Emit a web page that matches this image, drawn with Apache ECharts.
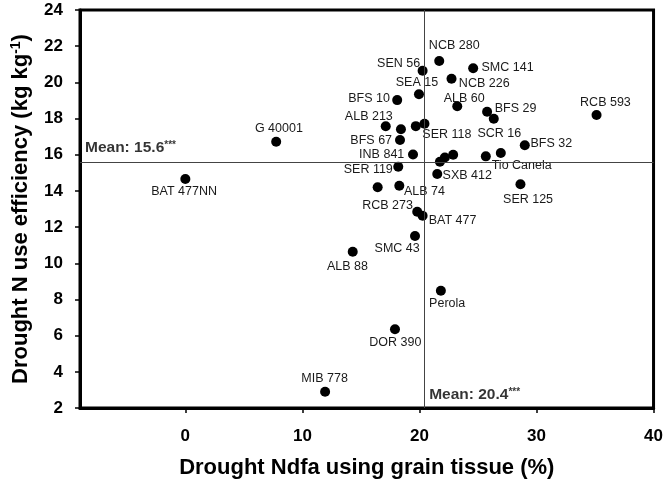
<!DOCTYPE html>
<html>
<head>
<meta charset="utf-8">
<script src="https://cdn.jsdelivr.net/npm/echarts@6/dist/echarts.min.js"></script>
<style>html,body{margin:0;padding:0;background:#fff;}#c{width:666px;height:485px;}</style>
</head>
<body>
<div id="c"></div>
<script>
// ---- data ----
const genotypes = ['NCB 280','SEN 56','SMC 141','NCB 226','SEA 15','BFS 10','ALB 60','BFS 29','SCR 16','RCB 593',
  'ALB 213','','','SER 118','BFS 67','G 40001','BFS 32','INB 841','','',
  '','','Tio Canela','SXB 412','SER 119','','ALB 74','SER 125','BAT 477NN','RCB 273',
  'BAT 477','SMC 43','ALB 88','Perola','DOR 390','MIB 778'];
const ndfa = [21.69,20.27,24.59,22.74,19.96,18.10,23.23,25.78,26.35,35.13,
  17.12,18.42,19.69,20.43,18.34,7.76,29.00,19.45,22.88,22.17,
  21.75,25.67,26.95,21.52,18.19,16.43,18.28,28.63,0.00,19.81,
  20.27,19.62,14.30,21.83,17.91,11.94];
const nue = [21.18,20.64,20.78,20.20,19.34,19.02,18.68,18.38,17.99,18.20,
  17.57,17.41,17.58,17.71,16.81,16.72,16.52,16.01,16.00,15.85,
  15.61,15.91,16.10,14.93,15.34,14.20,14.29,14.37,14.66,12.85,
  12.63,11.51,10.64,8.48,6.35,2.90];
const meanNdfa = 20.4;
const meanNue = 15.6;
const xTicks = [0, 10, 20, 30, 40];
const yRange = [2, 24, 2];
const xRange = [-9, 40];

// ---- label placement (pixels, relative to dot centre) ----
const labelOffsets = {
  'NCB 280':[15,-15.3],'SEN 56':[-24,-7.5],'SMC 141':[34.4,-1],'NCB 226':[32.7,4.6],'SEA 15':[-2,-11.3],
  'BFS 10':[-28.1,-1.7],'ALB 60':[6.9,-7.3],'BFS 29':[28.5,-3.4],'SCR 16':[5.5,14.6],'RCB 593':[8.9,-12.7],
  'ALB 213':[-16.9,-10],'SER 118':[22.4,10.3],'BFS 67':[-28.8,0],'G 40001':[2.7,-12.7],'BFS 32':[26.5,-1.4],
  'INB 841':[-31.3,0],'Tio Canela':[20.9,13],'SXB 412':[30,1],'SER 119':[-30,2.6],'ALB 74':[25.2,6],
  'SER 125':[7.6,15.7],'BAT 477NN':[-1.2,12.7],'RCB 273':[-29.7,-5.7],'BAT 477':[30,5.3],'SMC 43':[-17.8,13],
  'ALB 88':[-5.2,15],'Perola':[6.3,12.6],'DOR 390':[0.3,13],'MIB 778':[-0.5,-12.7]
};

const FONT = "'Liberation Sans', Arial, sans-serif";

const points = ndfa.map((x, i) => {
  const name = genotypes[i];
  const item = { value: [x, nue[i]], name: name };
  if (name && labelOffsets[name]) {
    item.label = { show: true, position: 'inside', offset: labelOffsets[name] };
  } else {
    item.label = { show: false };
  }
  return item;
});

const chart = echarts.init(document.getElementById('c'), null, { renderer: 'canvas' });
chart.setOption({
  animation: false,
  backgroundColor: '#fff',
  grid: { left: 80, right: 12, top: 10, bottom: 77, show: true, borderColor: '#000', borderWidth: 3, backgroundColor: 'transparent' },
  xAxis: {
    type: 'value', min: xRange[0], max: xRange[1],
    name: 'Drought Ndfa using grain tissue (%)', nameLocation: 'middle', nameGap: 49,
    nameTextStyle: { fontFamily: FONT, fontWeight: 'bold', fontSize: 22, color: '#000' },
    axisLine: { show: true, onZero: false, lineStyle: { color: '#000', width: 3 } },
    axisTick: { show: true, inside: false, length: 5, customValues: xTicks, lineStyle: { color: '#000', width: 1.5 } },
    axisLabel: { customValues: xTicks, margin: 20, fontFamily: FONT, fontWeight: 'bold', fontSize: 17, color: '#000' },
    splitLine: { show: false }
  },
  yAxis: {
    type: 'value', min: yRange[0], max: yRange[1], interval: yRange[2],
    name: '{a|Drought N use efficiency (kg kg}{s|-1}{a|)}', nameLocation: 'middle', nameGap: 47,
    nameTextStyle: {
      fontFamily: FONT, fontWeight: 'bold', fontSize: 22, color: '#000',
      rich: {
        a: { fontFamily: FONT, fontWeight: 'bold', fontSize: 22, color: '#000' },
        s: { fontFamily: FONT, fontWeight: 'bold', fontSize: 14, color: '#000', verticalAlign: 'top', padding: [0, 0, 10, 0] }
      }
    },
    axisLine: { show: true, onZero: false, lineStyle: { color: '#000', width: 3 } },
    axisTick: { show: true, inside: false, length: 5, lineStyle: { color: '#000', width: 1.5 } },
    axisLabel: { margin: 17, fontFamily: FONT, fontWeight: 'bold', fontSize: 17, color: '#000' },
    splitLine: { show: false }
  },
  series: [
    {
      type: 'scatter',
      symbol: 'circle', symbolSize: 10,
      itemStyle: { color: '#000', opacity: 1 },
      label: { formatter: '{b}', fontFamily: FONT, fontSize: 12.5, color: '#1a1a1a', align: 'center', verticalAlign: 'middle' },
      data: points,
      markLine: {
        silent: true, symbol: 'none', animation: false,
        lineStyle: { color: '#444', width: 1, type: 'solid' },
        label: { show: false },
        data: [{ yAxis: meanNue }, { xAxis: meanNdfa }]
      }
    },
    {
      type: 'scatter', symbolSize: 0, silent: true,
      label: {
        show: true, position: 'inside', align: 'left', verticalAlign: 'middle',
        fontFamily: FONT, fontWeight: 'bold', fontSize: 15.5, color: '#000',
        rich: {
          m: { fontFamily: FONT, fontWeight: 'bold', fontSize: 15.5, color: '#000' },
          s: { fontFamily: FONT, fontWeight: 'bold', fontSize: 10, color: '#000', verticalAlign: 'top', padding: [0, 0, 6, 0] }
        }
      },
      data: [
        { value: [xRange[0], meanNue], label: { offset: [5, -14], formatter: '{m|Mean: ' + meanNue.toFixed(1) + '}{s|***}' } },
        { value: [meanNdfa, yRange[0]], label: { offset: [5, -13], formatter: '{m|Mean: ' + meanNdfa.toFixed(1) + '}{s|***}' } }
      ]
    }
  ]
});
</script>
</body>
</html>
